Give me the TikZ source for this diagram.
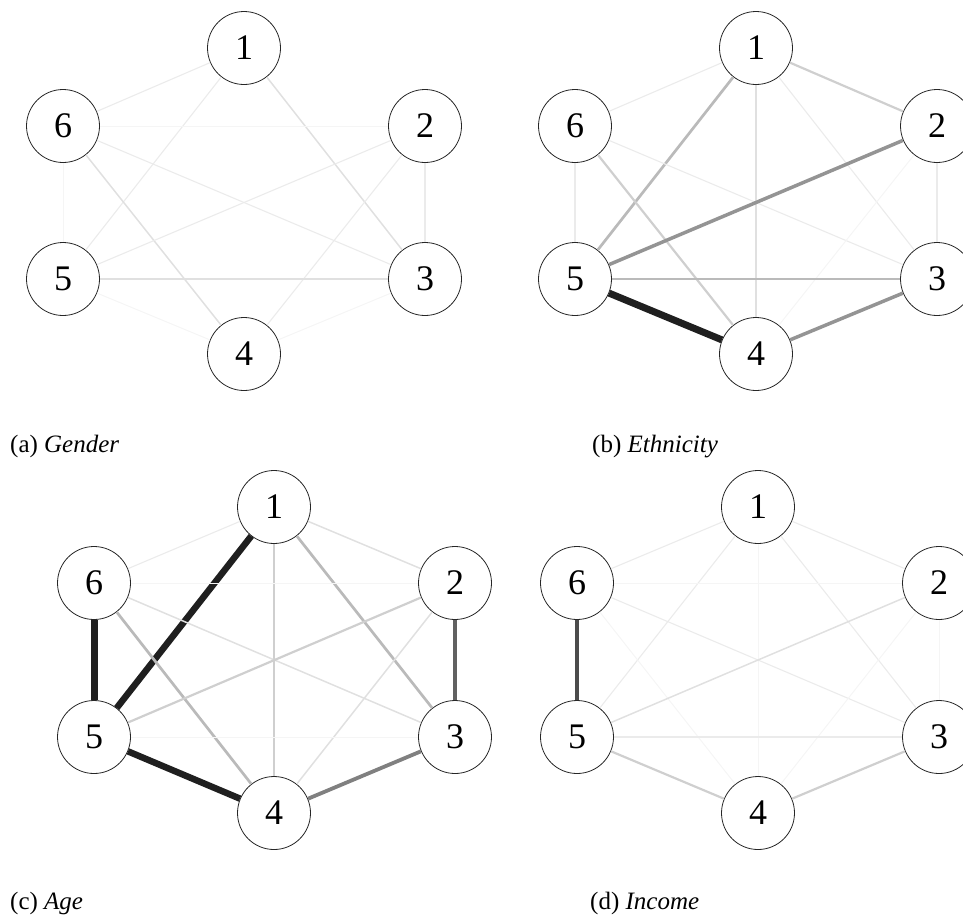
\documentclass[tikz,border=0pt]{standalone}
\usepackage{fontspec}
\setmainfont{Liberation Serif}
\begin{document}
\begin{tikzpicture}[x=1pt,y=-1pt,
  nd/.style={circle,draw=black!85,line width=0.8pt,fill=white,minimum size=73pt,inner sep=0pt,font=\fontsize{36}{36}\selectfont},
  captxt/.style={anchor=base west,inner sep=0pt,font=\fontsize{25}{25}\selectfont},
  evf/.style={draw=black!4,line width=1pt},
  ef/.style={draw=black!8,line width=1.1pt},
  el/.style={draw=black!12,line width=1.5pt},
  elg/.style={draw=black!19,line width=2.2pt},
  emg/.style={draw=black!27,line width=2.7pt},
  eg/.style={draw=black!42,line width=3.5pt},
  edg/.style={draw=black!50,line width=3.8pt},
  eddg/.style={draw=black!62,line width=4.8pt},
  eblk/.style={draw=black!88,line width=7pt}]
\useasboundingbox (0,0) rectangle (963,916);
\clip (0,0) rectangle (963,916);
% ---------------- (a)
\node[nd] (a1) at (244,48) {1};
\node[nd] (a2) at (425,126) {2};
\node[nd] (a3) at (425,279) {3};
\node[nd] (a4) at (244,354) {4};
\node[nd] (a5) at (63,279) {5};
\node[nd] (a6) at (63,126) {6};
% ---------------- (b)
\node[nd] (b1) at (756,48) {1};
\node[nd] (b2) at (937,126) {2};
\node[nd] (b3) at (937,279) {3};
\node[nd] (b4) at (756,354) {4};
\node[nd] (b5) at (575,279) {5};
\node[nd] (b6) at (575,126) {6};
% ---------------- (c)
\node[nd] (c1) at (274,507) {1};
\node[nd] (c2) at (455,583) {2};
\node[nd] (c3) at (455,737) {3};
\node[nd] (c4) at (274,813) {4};
\node[nd] (c5) at (94,737) {5};
\node[nd] (c6) at (94,583) {6};
% ---------------- (d)
\node[nd] (d1) at (758,507) {1};
\node[nd] (d2) at (939,583) {2};
\node[nd] (d3) at (939,737) {3};
\node[nd] (d4) at (758,813) {4};
\node[nd] (d5) at (577,737) {5};
\node[nd] (d6) at (577,583) {6};
% edges (a)
\path[ef] (a1) -- (a6);
\path[ef] (a1) -- (a5);
\path[el] (a1) -- (a3);
\path[evf] (a6) -- (a2);
\path[ef] (a6) -- (a3);
\path[el] (a6) -- (a4);
\path[evf] (a6) -- (a5);
\path[ef] (a2) -- (a5);
\path[ef] (a2) -- (a4);
\path[ef] (a2) -- (a3);
\path[el,line width=2pt] (a5) -- (a3);
\path[evf] (a5) -- (a4);
\path[evf] (a4) -- (a3);
% edges (b)
\path[ef] (b1) -- (b6);
\path[emg] (b1) -- (b5);
\path[el] (b1) -- (b4);
\path[ef] (b1) -- (b3);
\path[elg] (b1) -- (b2);
\path[ef] (b6) -- (b3);
\path[elg] (b6) -- (b4);
\path[ef] (b6) -- (b5);
\path[eg] (b2) -- (b5);
\path[evf] (b2) -- (b4);
\path[ef] (b2) -- (b3);
\path[emg] (b5) -- (b3);
\path[eblk] (b5) -- (b4);
\path[eg] (b4) -- (b3);
% edges (c)
\path[ef] (c1) -- (c6);
\path[el] (c1) -- (c2);
\path[eblk,line width=6.5pt] (c1) -- (c5);
\path[elg] (c1) -- (c4);
\path[emg] (c1) -- (c3);
\path[evf] (c6) -- (c2);
\path[el] (c6) -- (c3);
\path[emg] (c6) -- (c4);
\path[eblk] (c6) -- (c5);
\path[elg] (c2) -- (c5);
\path[el] (c2) -- (c4);
\path[eddg] (c2) -- (c3);
\path[evf] (c5) -- (c3);
\path[eblk,line width=6.5pt] (c5) -- (c4);
\path[edg] (c4) -- (c3);
% edges (d)
\path[ef] (d1) -- (d6);
\path[ef] (d1) -- (d2);
\path[ef] (d1) -- (d5);
\path[evf] (d1) -- (d4);
\path[ef] (d1) -- (d3);
\path[evf] (d6) -- (d2);
\path[ef] (d6) -- (d3);
\path[evf] (d6) -- (d4);
\path[eddg,draw=black!70] (d6) -- (d5);
\path[el] (d2) -- (d5);
\path[evf] (d2) -- (d4);
\path[evf] (d2) -- (d3);
\path[ef] (d5) -- (d3);
\path[elg] (d5) -- (d4);
\path[elg] (d4) -- (d3);
% captions
\node[captxt] (capa) at (10,452) {(a) \textit{Gender}};
\node[captxt] (capb) at (592,452) {(b) \textit{Ethnicity}};
\node[captxt] (capc) at (10,909) {(c) \textit{Age}};
\node[captxt] (capd) at (590,909) {(d) \textit{Income}};
\end{tikzpicture}
\end{document}
